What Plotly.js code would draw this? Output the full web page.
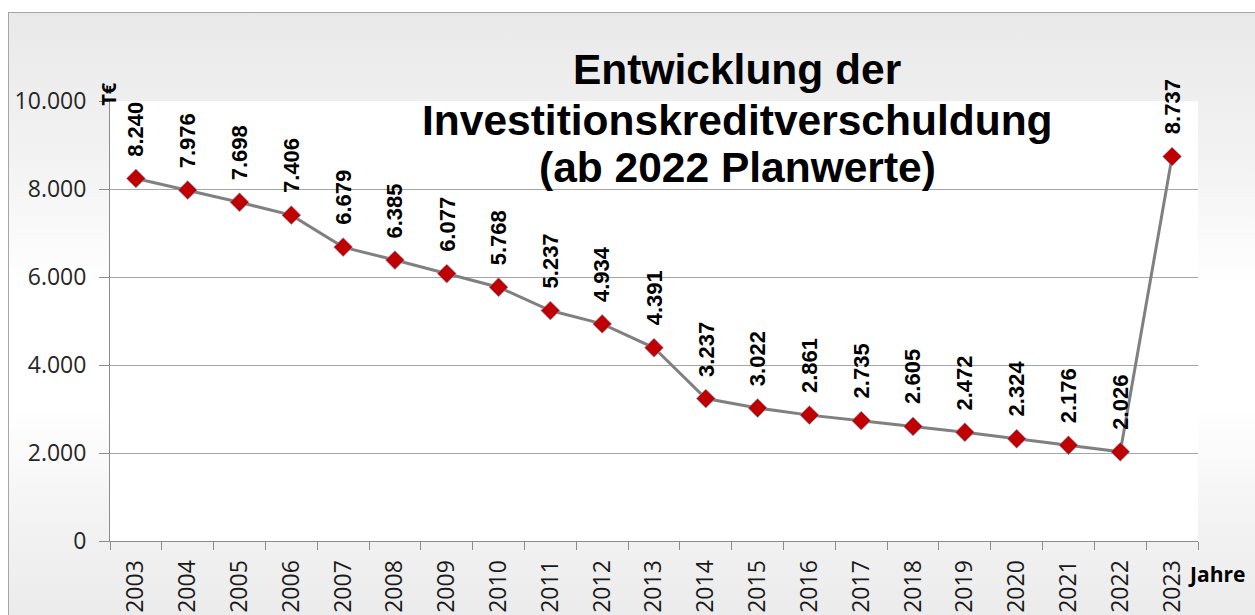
<!DOCTYPE html>
<html>
<head>
<meta charset="utf-8">
<script src="https://cdn.plot.ly/plotly-3.0.1.min.js"></script>
<style>
html,body{margin:0;padding:0;background:#fff;}
#frame{position:absolute;left:8px;top:12px;width:1250px;height:610px;border:1px solid #a6a6a6;box-sizing:border-box;
background:linear-gradient(to bottom,#e9e9e9 0%,#f3f3f3 25%,#ffffff 45%,#ffffff 65%,#f2f2f2 85%,#ebebeb 100%);}
#chart{position:absolute;left:0;top:0;width:1255px;height:615px;}
</style>
</head>
<body>
<div id="frame"></div>
<div id="chart"></div>
<script>
const years = ["2003","2004","2005","2006","2007","2008","2009","2010","2011","2012","2013","2014","2015","2016","2017","2018","2019","2020","2021","2022","2023"];
const debt = [8240,7976,7698,7406,6679,6385,6077,5768,5237,4934,4391,3237,3022,2861,2735,2605,2472,2324,2176,2026,8737];
const yTicks = [0,2000,4000,6000,8000,10000];
const yTickLabels = ["0","2.000","4.000","6.000","8.000","10.000"];
const titleLines = ["Entwicklung der","Investitionskreditverschuldung","(ab 2022 Planwerte)"];

function fmt(v){ return String(v).replace(/\B(?=(\d{3})+(?!\d))/g, "."); }

const trace = {
  x: years, y: debt, type: "scatter", mode: "lines+markers",
  line: {color: "#808080", width: 3},
  marker: {symbol: "diamond", size: 14.5, color: "#c00000", line: {color: "#7f9fd0", width: 0.6}},
  hoverinfo: "x+y"
};

const annotations = years.map((yr, i) => ({
  x: i, y: debt[i], xref: "x", yref: "y", text: fmt(debt[i]), showarrow: false,
  textangle: -90, yanchor: "bottom", xanchor: "center", yshift: 20,
  font: {family: "Liberation Sans, Arial, sans-serif", size: 22, color: "#000", weight: "bold"}
}));
const titleY = [70, 120, 167];
titleLines.forEach((t, k) => annotations.push({
  xref: "paper", yref: "paper", x: (737 - 110) / 1088, y: (541 - titleY[k]) / 440,
  xanchor: "center", yanchor: "middle", text: t, showarrow: false,
  font: {family: "Liberation Sans, Arial, sans-serif", size: 42.5, color: "#000", weight: "bold"}
}));
annotations.push({
  xref: "paper", yref: "paper", x: -0.002, y: (541 - 94) / 440, xanchor: "center", yanchor: "middle",
  text: "T€", textangle: -90, showarrow: false,
  font: {family: "Open Sans, sans-serif", size: 20, color: "#000", weight: "bold"}
});
annotations.push({
  xref: "paper", yref: "paper", x: (1186 - 110) / 1088, y: (541 - 574) / 440, xanchor: "left", yanchor: "middle",
  text: "Jahre", showarrow: false,
  font: {family: "Open Sans, sans-serif", size: 21, color: "#000", weight: "bold"}
});

const layout = {
  width: 1255, height: 615,
  margin: {l: 110, r: 57, t: 101, b: 74},
  paper_bgcolor: "rgba(0,0,0,0)", plot_bgcolor: "#ffffff",
  showlegend: false,
  xaxis: {
    type: "category", tickangle: -90, ticks: "outside", tickson: "boundaries",
    ticklen: 8, tickcolor: "#8c8c8c", showline: true, linecolor: "#8c8c8c", linewidth: 1,
    showgrid: false, tickfont: {family: "Open Sans, sans-serif", size: 23, color: "#1a1a1a"},
    ticklabelstandoff: 9,
    range: [-0.5, 20.5], fixedrange: true
  },
  yaxis: {
    range: [0, 10000], tickvals: yTicks, ticktext: yTickLabels,
    ticks: "outside", ticklen: 10, tickcolor: "#8c8c8c", showline: true, linecolor: "#8c8c8c",
    showgrid: true, gridcolor: "#a6a6a6", gridwidth: 1, zeroline: false,
    ticklabelstandoff: 8,
    tickfont: {family: "Open Sans, sans-serif", size: 23, color: "#262626"}, fixedrange: true
  },
  annotations: annotations
};

Plotly.newPlot("chart", [trace], layout, {displayModeBar: false});
</script>
</body>
</html>
